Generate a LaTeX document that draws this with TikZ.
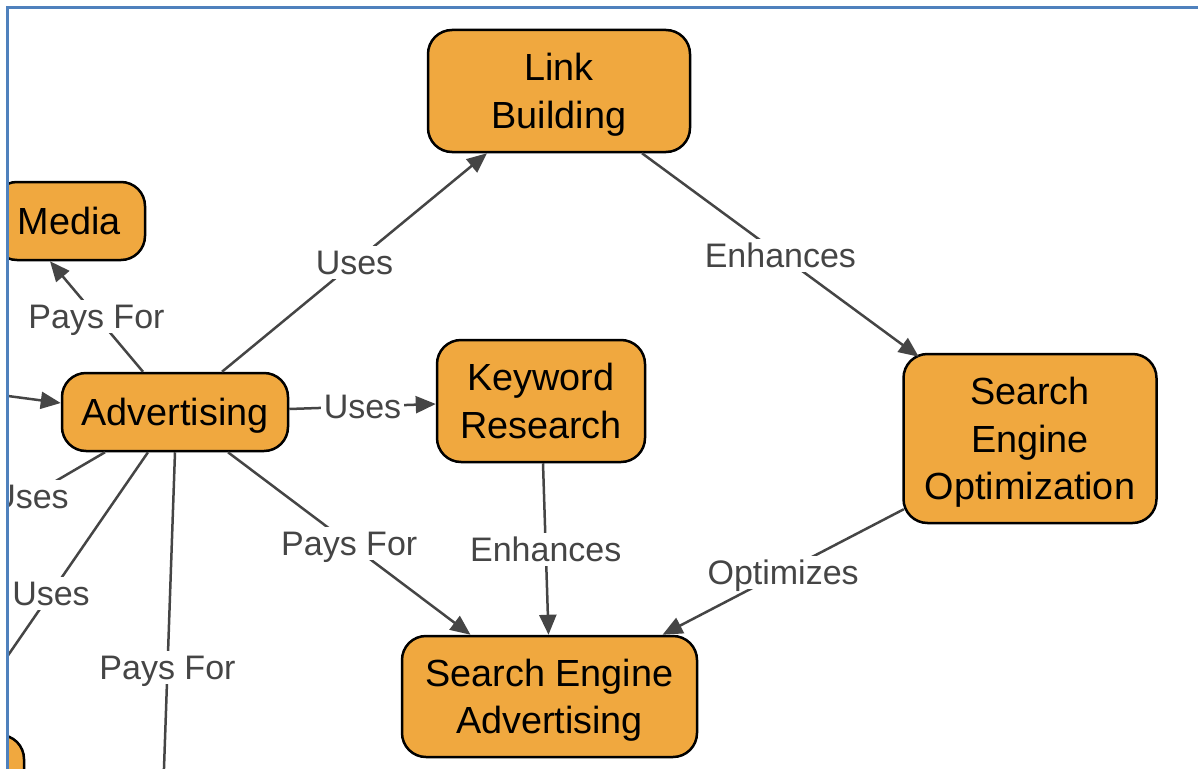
\documentclass[tikz,border=0pt]{standalone}
\usepackage{fontspec}
\setmainfont{Liberation Sans}
\usetikzlibrary{arrows.meta}
\definecolor{nodefill}{HTML}{F0A83F}
\definecolor{edgegray}{HTML}{454545}
\definecolor{frameblue}{HTML}{4F81BD}
\newcommand\padtop{\rule{0pt}{36pt}}
\newcommand\padbot{\rule[-9pt]{0pt}{9pt}}
\tikzset{
  concept/.style={draw=black, line width=2.5pt, fill=nodefill, rounded corners=24pt,
    align=center, font=\fontsize{37.8pt}{47.5pt}\selectfont, inner sep=0pt},
  edge/.style={draw=edgegray, line width=2.5pt, -{Triangle[length=20pt,width=17pt]}},
  lab/.style={fill=white, text=edgegray, font=\fontsize{34pt}{40pt}\selectfont, inner sep=2.5pt,
    text height=26pt, text depth=2pt},
}
\begin{document}
\begin{tikzpicture}[x=1pt,y=-1pt]
\useasboundingbox (0,0) rectangle (1198,768);
\begin{scope}
\clip (7,8) rectangle (1210,780);
% nodes
\node[concept, minimum width=262pt, minimum height=122pt] (lb) at (559,91) {\padtop Link\\Building\padbot};
\node[concept, minimum width=152pt, minimum height=78pt] (media) at (69,221) {\padtop Media\padbot};
\node[concept, minimum width=226pt, minimum height=78pt] (adv) at (175,412) {\padtop Advertising\padbot};
\node[concept, minimum width=208pt, minimum height=122pt] (kr) at (541,401) {\padtop Keyword\\Research\padbot};
\node[concept, minimum width=253pt, minimum height=169pt] (seo) at (1030,438.5) {\padtop Search\\Engine\\Optimization\padbot};
\node[concept, minimum width=295pt, minimum height=121pt] (sea) at (549.5,696.5) {\padtop Search Engine\\Advertising\padbot};
\node[concept, minimum width=200pt, minimum height=100pt] (bl) at (-76,785) {};
% free ends of connectors leaving the picture
\coordinate (c8) at (-150,375);
\coordinate (c9) at (-45,540);
\coordinate (c11) at (160,883);
% connectors
\draw[edge] ([shift={(47,0)}]adv.north) -- ([shift={(-72,0)}]lb.south) node[lab,midway]{Uses};
\draw[edge] ([shift={(83,0)}]lb.south) -- ([shift={(16.5,4)}]seo.north west) node[lab,midway]{Enhances};
\draw[edge] ([shift={(1.5,-15)}]seo.south west) -- ([shift={(113,0)}]sea.north) node[lab,midway]{Optimizes};
\draw[edge] ([shift={(2,0)}]kr.south) -- ([shift={(-1,0)}]sea.north) node[lab,midway]{Enhances};
\draw[edge] ([shift={(0,-3)}]adv.east) -- ([shift={(0,3)}]kr.west) node[lab,midway]{Uses};
\draw[edge] ([shift={(53,0)}]adv.south) -- ([shift={(-79,0)}]sea.north) node[lab,midway]{Pays For};
\draw[edge] ([shift={(-32,0)}]adv.north) -- ([shift={(-19,0)}]media.south) node[lab,midway]{Pays For};
\draw[edge] (c8) -- ([shift={(0,-9)}]adv.west);
\draw[edge] ([shift={(-70,0)}]adv.south) -- (c9) node[lab,midway]{Uses};
\draw[edge] ([shift={(-27,0)}]adv.south) -- ([shift={(30,0)}]bl.north) node[lab,midway]{Uses};
\draw[edge] (adv.south) -- (c11) node[lab,midway]{Pays For};
\end{scope}
\draw[frameblue, line width=3pt] (7,780) -- (7,8) -- (1210,8);
\end{tikzpicture}
\end{document}
